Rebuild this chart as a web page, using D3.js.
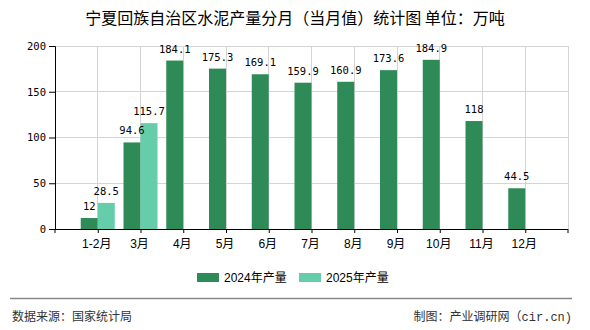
<!DOCTYPE html>
<html><head><meta charset="utf-8">
<script src="https://cdnjs.cloudflare.com/ajax/libs/d3/7.8.5/d3.min.js"></script>
<style>
body{margin:0;background:#fff;}
svg{display:block;}
text{font-family:"Liberation Sans","Noto Sans CJK SC",sans-serif;}
</style></head>
<body><svg id="c" width="590" height="330"></svg>
<script>
const categories = ["1-2月","3月","4月","5月","6月","7月","8月","9月","10月","11月","12月"];
const values2024 = [12, 94.6, 184.1, 175.3, 169.1, 159.9, 160.9, 173.6, 184.9, 118, 44.5];
const values2025 = [28.5, 115.7, null, null, null, null, null, null, null, null, null];
const yTicks = [0, 50, 100, 150, 200];
const seriesNames = ["2024年产量", "2025年产量"];
const colors = ["#2e8b57", "#66cdaa"];
const titleText = "宁夏回族自治区水泥产量分月（当月值）统计图 单位：万吨";
const sourceText = "数据来源：国家统计局";
const creditCJK = "制图：产业调研网（";
const creditLatin = "cir.cn)";

(function () {
const svg = d3.select("#c");
const pL = 55, pR = 568, pT = 46, pB = 229;
const x = d3.scalePoint().domain(categories).range([pL, pR]).padding(1);
const y = d3.scaleLinear().domain([0, 200]).range([pB, pT]);
const bw = 17;
const mono = '"DejaVu Sans Mono","Liberation Mono",monospace';

// title
svg.append("text").attr("x", 295).attr("y", 24).attr("text-anchor", "middle")
  .attr("font-size", 16).attr("fill", "#000")
  .style("font-family", '"Noto Sans CJK SC",sans-serif').text(titleText);

// gridlines
const g = svg.append("g");
g.selectAll("line.h").data(yTicks.filter(d => d > 0)).enter().append("line")
  .attr("x1", pL).attr("x2", pR).attr("y1", d => y(d)).attr("y2", d => y(d))
  .attr("stroke", "#d4d4d4").attr("stroke-width", 1).attr("shape-rendering", "crispEdges");
g.selectAll("line.v").data(categories).enter().append("line")
  .attr("x1", d => x(d)).attr("x2", d => x(d)).attr("y1", pT).attr("y2", pB)
  .attr("stroke", "#d4d4d4").attr("stroke-width", 1).attr("shape-rendering", "crispEdges");
g.append("line").attr("x1", pR).attr("x2", pR).attr("y1", pT).attr("y2", pB)
  .attr("stroke", "#d4d4d4").attr("shape-rendering", "crispEdges");

// bars
const series = [values2024, values2025];
const barLayer = svg.append("g");
const labelLayer = svg.append("g");
series.forEach((vals, si) => {
  const data = categories.map((c, i) => ({c, v: vals[i]})).filter(d => d.v != null);
  barLayer.append("g").selectAll("rect").data(data).enter().append("rect")
    .attr("x", d => x(d.c) + (si === 0 ? -bw : 0))
    .attr("y", d => y(d.v)).attr("width", bw).attr("height", d => pB - y(d.v))
    .attr("fill", colors[si]);
  labelLayer.append("g").selectAll("text").data(data).enter().append("text")
    .attr("x", d => x(d.c) + (si === 0 ? -bw / 2 : bw / 2))
    .attr("y", d => y(d.v) - 8).attr("text-anchor", "middle")
    .attr("font-size", 10.5).attr("fill", "#000").style("font-family", mono).text(d => d.v);
});

// axes
const yAxis = svg.append("g").attr("transform", `translate(${pL},0)`)
  .call(d3.axisLeft(y).tickValues(yTicks).tickSize(6).tickPadding(3));
yAxis.select(".domain").attr("stroke", "#000");
yAxis.selectAll(".tick line").attr("stroke", "#000");
yAxis.selectAll("text").attr("font-size", 10.5).attr("fill", "#000").style("font-family", mono);

const xAxis = svg.append("g").attr("transform", `translate(0,${pB})`)
  .call(d3.axisBottom(x).tickSize(4).tickPadding(6).tickSizeOuter(0));
xAxis.select(".domain").attr("stroke", "#000").attr("d", `M${pL},0.5H${pR}`);
xAxis.selectAll(".tick line").attr("stroke", "#000");
xAxis.selectAll("text").attr("font-size", 12).attr("fill", "#000").attr("dx", -1.5);
[pL, pR].forEach(px => xAxis.append("line").attr("x1", px).attr("x2", px)
  .attr("y1", 0).attr("y2", 4).attr("stroke", "#000"));

// legend
const lg = svg.append("g");
const legendX = [197, 299];
seriesNames.forEach((n, i) => {
  lg.append("rect").attr("x", legendX[i]).attr("y", 273).attr("width", 22).attr("height", 9).attr("fill", colors[i]);
  lg.append("text").attr("x", legendX[i] + 27).attr("y", 282).attr("font-size", 12).attr("fill", "#000").text(n);
});

// footer
svg.append("line").attr("x1", 10).attr("x2", 572).attr("y1", 298.5).attr("y2", 298.5)
  .attr("stroke", "#888").attr("stroke-width", 1.5);
svg.append("text").attr("x", 12).attr("y", 321).attr("font-size", 12).attr("fill", "#333")
  .style("font-family", '"Noto Sans CJK SC",sans-serif').text(sourceText);
const ct = svg.append("text").attr("x", 572).attr("y", 321).attr("text-anchor", "end")
  .attr("font-size", 12).attr("fill", "#333");
ct.append("tspan").style("font-family", '"Noto Sans CJK SC",sans-serif').text(creditCJK);
ct.append("tspan").style("font-family", '"Liberation Mono",monospace').text(creditLatin);
})();
</script></body></html>
